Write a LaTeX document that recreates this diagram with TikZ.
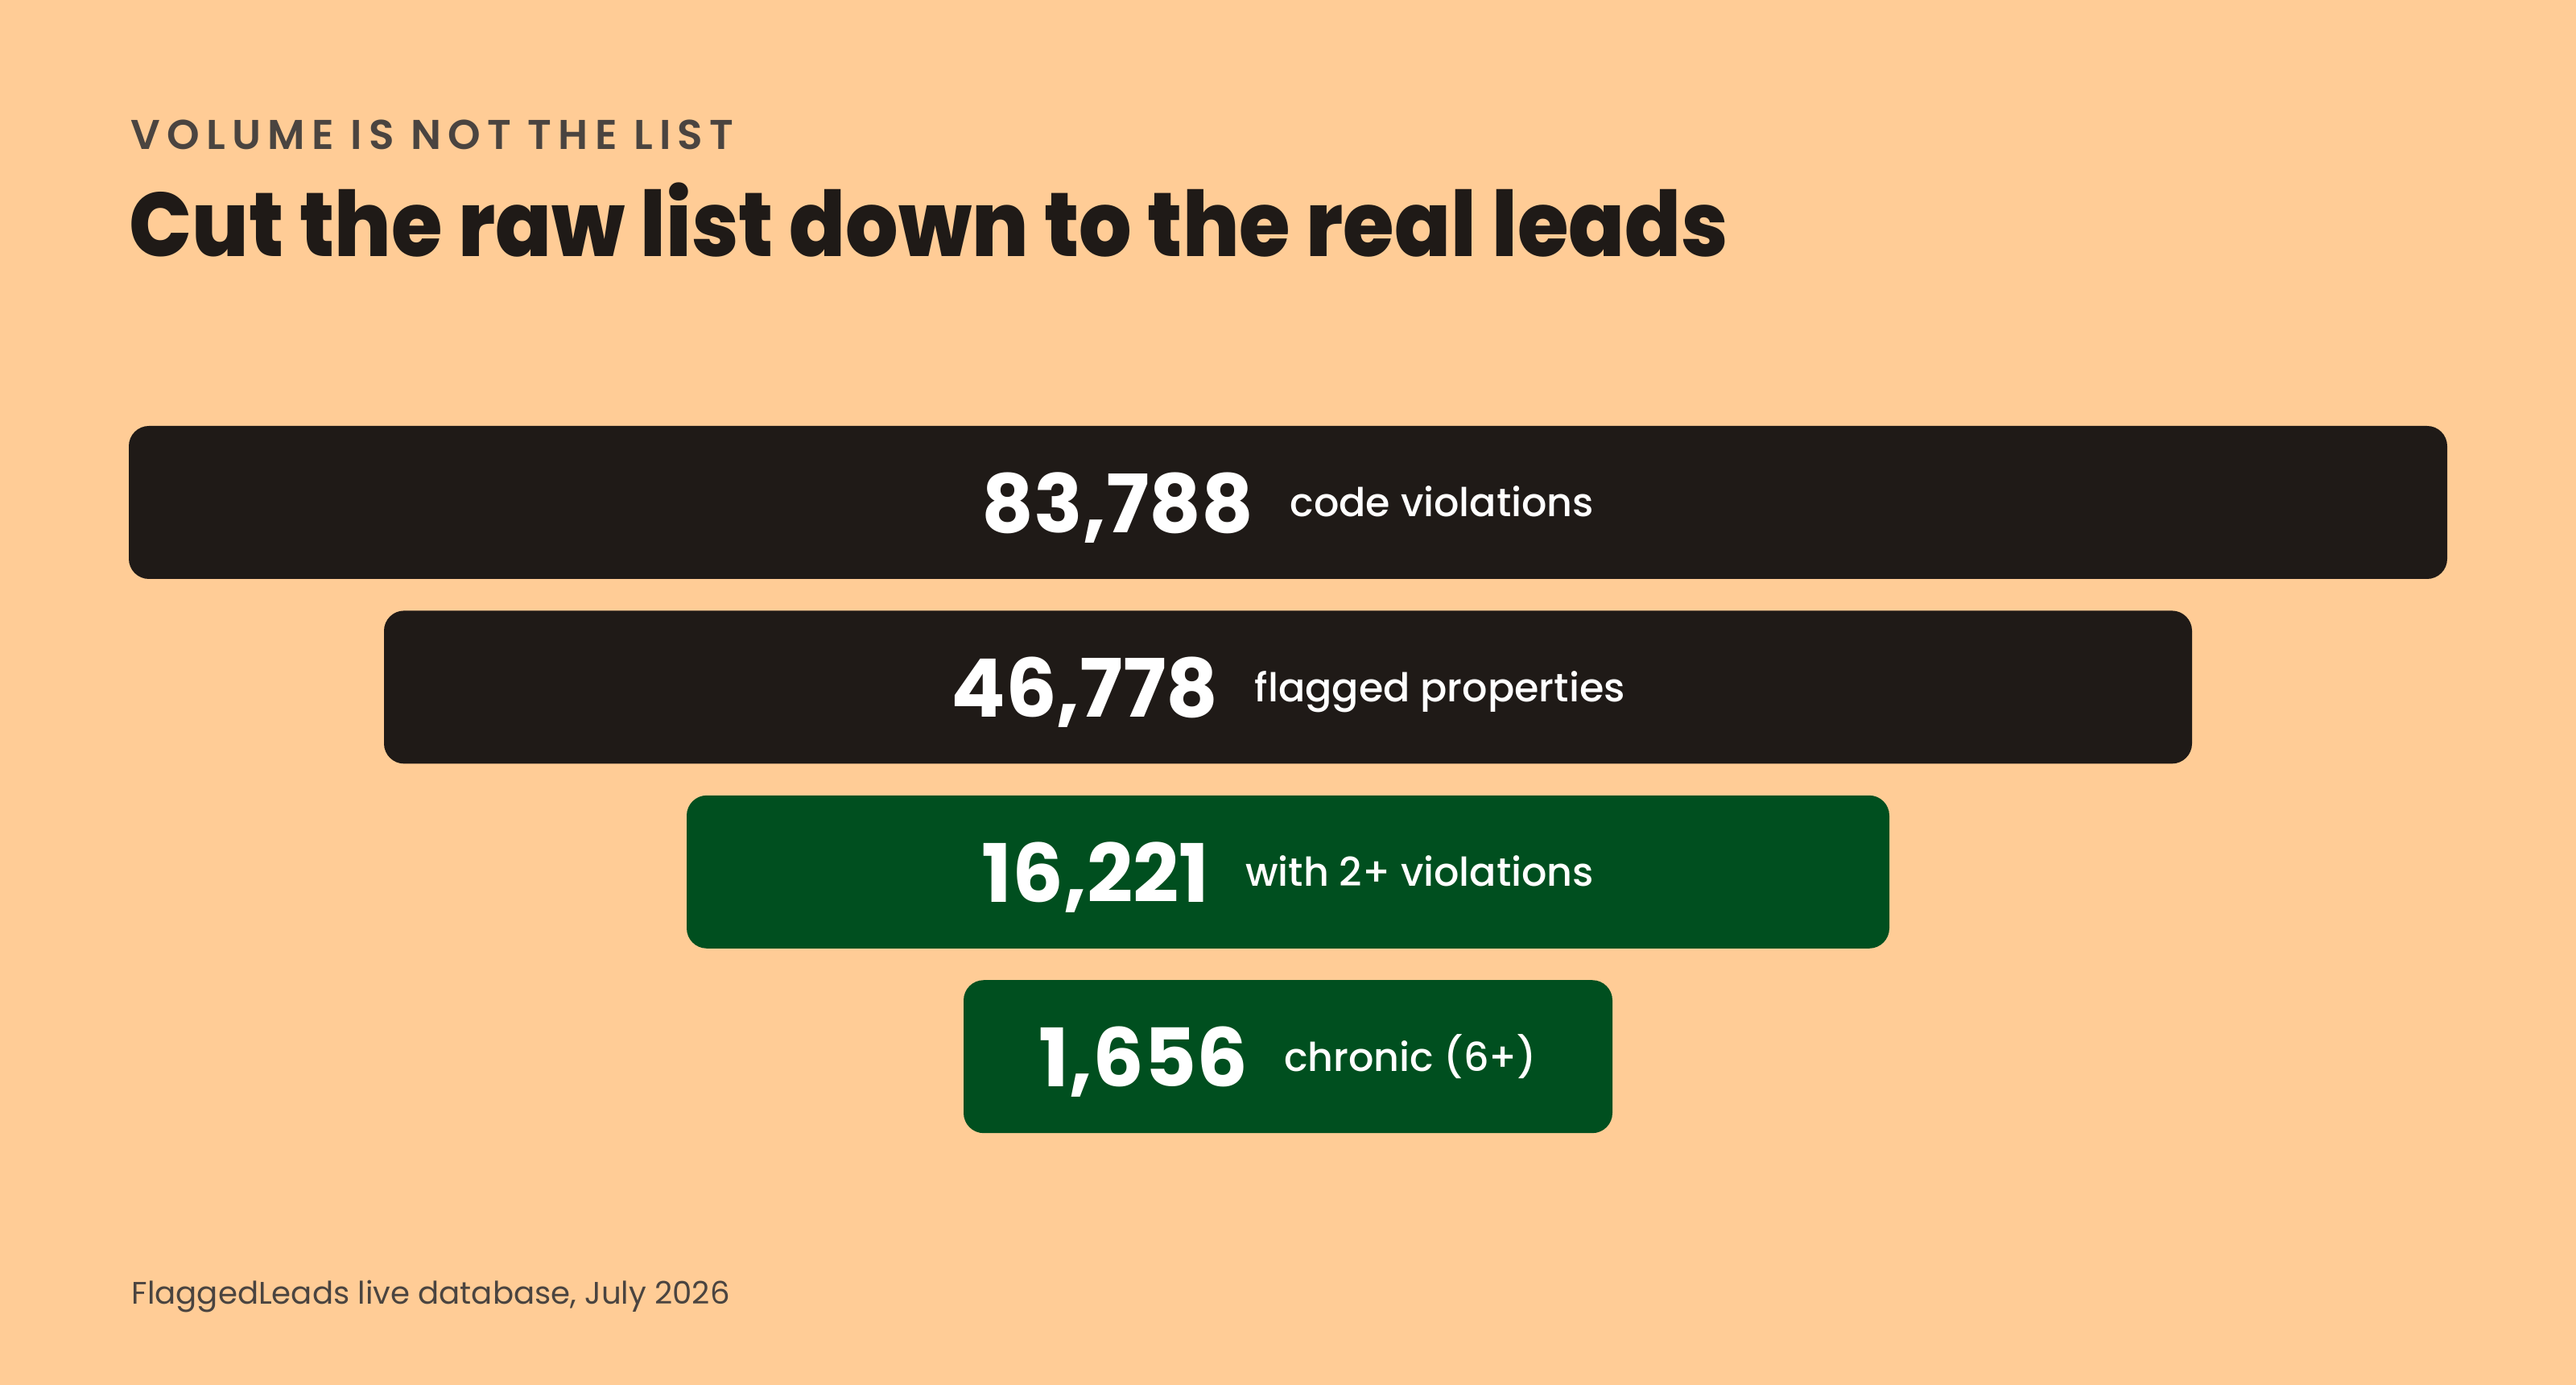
\documentclass[tikz,border=0pt]{standalone}
\usepackage{fontspec}
\setmainfont{Poppins}
\newfontfamily\medfont{Poppins Medium}
\newfontfamily\semifont{Poppins SemiBold}[LetterSpace=16]
\newfontfamily\heavyfont{Poppins ExtraBold}[FakeStretch=0.915]
\usetikzlibrary{positioning}

\definecolor{peach}{RGB}{255,204,150}
\definecolor{ink}{RGB}{31,26,23}
\definecolor{leaf}{RGB}{0,79,31}
\definecolor{slate}{RGB}{74,68,64}
\definecolor{chalk}{RGB}{242,242,236}

% number on the left, words on the right, both centred on the bar
\newcommand\rowtext[2]{%
  $\vcenter{\hbox{\bfseries\fontsize{28.5}{30}\selectfont\smash{#1}\vphantom{0}}}$%
  \hspace{0.45cm}%
  $\vcenter{\hbox{\medfont\fontsize{14}{16}\selectfont\smash{#2}\vphantom{d}}}$}

\begin{document}
\begin{tikzpicture}[
    bar/.style={rounded corners=0.25cm, minimum height=1.9cm, inner sep=0pt},
    rowlabel/.style={text=white, inner sep=0pt},
    node distance=0.38cm]
  \fill[peach] (0,0) rectangle (32,17.2);
  \useasboundingbox (0,0) rectangle (32,17.2);

  \node (kicker) [anchor=base west, text=slate, inner sep=0pt,
    font=\semifont\fontsize{14.7}{16}\selectfont] at (1.62,15.34) {VOLUME IS NOT THE LIST};
  \node (title) [anchor=base west, text=ink, inner sep=0pt,
    font=\heavyfont\fontsize{32}{34}\selectfont] at (1.6,14.01) {Cut the raw list down to the real leads};

  % the funnel
  \node (bar1) [bar, fill=ink, minimum width=28.8cm] at (16,10.96) {};
  \node (bar2) [bar, fill=ink, minimum width=22.46cm, below=of bar1] {};
  \node (bar3) [bar, fill=leaf, minimum width=14.94cm, below=of bar2] {};
  \node (bar4) [bar, fill=leaf, minimum width=8.06cm, below=of bar3] {};

  \node (row1) [rowlabel] at (bar1.center) {\rowtext{83,788}{code violations}};
  \node (row2) [rowlabel] at (bar2.center) {\rowtext{46,778}{flagged properties}};
  \node (row3) [rowlabel] at (bar3.center) {\rowtext{16,221}{with 2+ violations}};
  \node (row4) [rowlabel] at (bar4.center) {\rowtext{1,656}{chronic (6+)}};

  \node (source) [anchor=base west, text=slate, inner sep=0pt,
    font=\fontsize{11}{13}\selectfont] at (1.63,1.0) {FlaggedLeads live database, July 2026};
\end{tikzpicture}
\end{document}
